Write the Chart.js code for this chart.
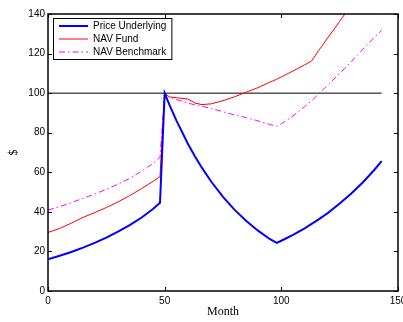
<!DOCTYPE html>
<html>
<head>
<meta charset="utf-8">
<script src="https://cdn.jsdelivr.net/npm/chart.js@4.4.0/dist/chart.umd.min.js"></script>
<style>
  html, body { margin: 0; padding: 0; background: #fff; }
</style>
</head>
<body>
<canvas id="myChart1" width="403" height="322"></canvas>
<script>
// valores (mes -> $)
const months = [0, 5, 10, 15, 20, 25, 30, 35, 40, 45, 48, 50, 52, 55, 60, 63, 66, 70, 75, 80, 85, 90, 95, 98, 100, 105, 110, 113, 116, 120, 125, 127, 130, 135, 140, 143];
const priceUnderlying = [16.0, 17.8, 19.7, 21.9, 24.3, 27.0, 30.0, 33.3, 37.0, 41.4, 44.6, 100, 94.2, 86.2, 74.3, 68.0, 62.2, 55.2, 47.6, 41.0, 35.4, 30.5, 26.3, 24.3, 25.4, 28.4, 31.7, 33.9, 36.2, 39.5, 44.2, 46.2, 49.3, 55.0, 61.4, 65.6];
const navFund = [29.6, 31.6, 34.3, 37.2, 39.6, 42.2, 45.0, 48.2, 51.7, 55.4, 57.8, 100, 98.1, 97.7, 97.0, 95.0, 94.2, 94.6, 96.2, 98.2, 100.5, 102.8, 105.5, 107.0, 108.2, 111.2, 114.3, 116.3, 121.5, 128.1, 136.3, 139.6, 144.5, 152.5, 160.5, 165.5];
const navBenchmark = [40.9, 42.6, 44.7, 46.8, 49.0, 51.4, 54.0, 56.9, 60.5, 64.5, 67.5, 100, 98.0, 96.8, 95.0, 94.0, 93.4, 92.2, 90.6, 89.0, 87.6, 86.0, 84.2, 83.3, 84.5, 88.5, 93.2, 96.2, 99.6, 104.2, 110.0, 112.4, 116.0, 122.2, 128.4, 131.8];
const refMonths = [0, 143];
const refLevel = [100, 100];
const xTicks = [0, 50, 100, 150];
const yTicks = [0, 20, 40, 60, 80, 100, 120, 140];

const toPoints = (xs, ys) => xs.map((m, i) => ({ x: m, y: ys[i] }));

// caja tipo matlab con ticks hacia dentro
const boxPlugin = {
  id: 'matlabBox',
  afterDatasetsDraw(chart) {
    const { ctx, chartArea: a, scales: { x, y } } = chart;
    ctx.save();
    ctx.strokeStyle = '#000';
    ctx.lineWidth = 1;
    ctx.beginPath();
    x.ticks.forEach(t => {
      const px = Math.round(x.getPixelForValue(t.value)) + 0.5;
      ctx.moveTo(px, a.bottom); ctx.lineTo(px, a.bottom - 4);
      ctx.moveTo(px, a.top); ctx.lineTo(px, a.top + 4);
    });
    y.ticks.forEach(t => {
      const py = Math.round(y.getPixelForValue(t.value)) + 0.5;
      ctx.moveTo(a.left, py); ctx.lineTo(a.left + 4, py);
      ctx.moveTo(a.right, py); ctx.lineTo(a.right - 4, py);
    });
    ctx.stroke();
    ctx.lineWidth = 1.5;
    ctx.strokeRect(a.left, a.top, a.right - a.left, a.bottom - a.top);
    ctx.restore();
  }
};

// leyenda dentro del area
const legendPlugin = {
  id: 'insideLegend',
  afterDatasetsDraw(chart) {
    const { ctx, chartArea: a } = chart;
    const items = chart.data.datasets.filter(d => d.label);
    ctx.save();
    ctx.font = '10px "Liberation Sans", Arial, sans-serif';
    const textW = Math.max(...items.map(d => ctx.measureText(d.label).width));
    const left = a.left + 5, top = a.top + 4;
    const w = 40 + textW + 5, h = items.length * 13 + 2;
    ctx.fillStyle = '#fff';
    ctx.fillRect(left, top, w, h);
    ctx.strokeStyle = '#000';
    ctx.lineWidth = 1;
    ctx.strokeRect(left + 0.5, top + 0.5, w, h);
    items.forEach((d, i) => {
      const cy = top + 8 + i * 13;
      ctx.strokeStyle = d.borderColor;
      ctx.lineWidth = d.borderWidth;
      ctx.setLineDash(d.borderDash || []);
      ctx.beginPath();
      ctx.moveTo(left + 6, cy);
      ctx.lineTo(left + 35, cy);
      ctx.stroke();
      ctx.setLineDash([]);
      ctx.fillStyle = '#000';
      ctx.textBaseline = 'middle';
      ctx.fillText(d.label, left + 40, cy);
    });
    ctx.restore();
  }
};

new Chart(document.getElementById('myChart1'), {
  type: 'line',
  data: {
    datasets: [{
      label: 'Price Underlying',
      data: toPoints(months, priceUnderlying),
      borderColor: '#0000ff',
      borderWidth: 2
    }, {
      label: 'NAV Fund',
      data: toPoints(months, navFund),
      borderColor: '#ff0000',
      borderWidth: 1
    }, {
      label: 'NAV Benchmark',
      data: toPoints(months, navBenchmark),
      borderColor: '#ff00ff',
      borderWidth: 1,
      borderDash: [6, 3, 1.5, 3]
    }, {
      label: '',
      data: toPoints(refMonths, refLevel),
      borderColor: '#000000',
      borderWidth: 1
    }]
  },
  options: {
    responsive: false,
    devicePixelRatio: 1,
    animation: false,
    elements: { point: { radius: 0 }, line: { tension: 0 } },
    layout: { padding: { top: 14, right: 5, left: 0, bottom: 0 } },
    plugins: { legend: { display: false }, tooltip: { enabled: false } },
    scales: {
      x: {
        type: 'linear',
        min: 0,
        max: 150,
        afterBuildTicks: s => { s.ticks = xTicks.map(v => ({ value: v })); },
        afterFit: s => { s.height = 31; s.paddingLeft = 0; s.paddingRight = 0; },
        grid: { display: false, drawTicks: false },
        border: { display: false },
        ticks: { padding: 4, color: '#000', font: { family: '"Liberation Sans", Arial', size: 10 }, maxRotation: 0 },
        title: { display: true, text: 'Month', color: '#000', font: { family: '"Liberation Serif", "Times New Roman"', size: 12 }, padding: { top: 0, bottom: 3 } }
      },
      y: {
        min: 0,
        max: 140,
        afterBuildTicks: s => { s.ticks = yTicks.map(v => ({ value: v })); },
        afterFit: s => { s.width = 48; s.paddingTop = 0; s.paddingBottom = 0; },
        grid: { display: false, drawTicks: false },
        border: { display: false },
        ticks: { padding: 3, color: '#000', font: { family: '"Liberation Sans", Arial', size: 10 } },
        title: { display: true, text: '$', color: '#000', font: { family: '"Liberation Serif", "Times New Roman"', size: 12 }, padding: { top: 7, bottom: 0 } }
      }
    }
  },
  plugins: [boxPlugin, legendPlugin]
});
</script>
</body>
</html>
